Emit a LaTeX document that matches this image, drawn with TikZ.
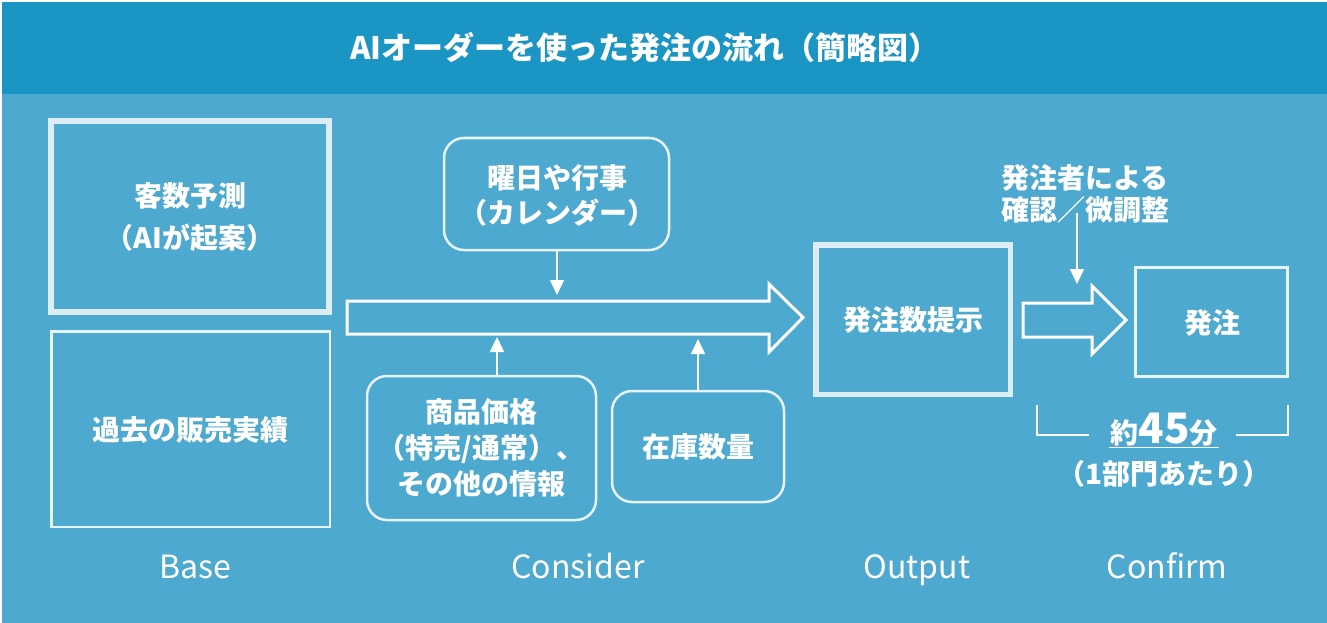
\documentclass[tikz,border=0pt]{standalone}
\usepackage{fontspec}
\setmainfont{Noto Sans CJK JP}
\usetikzlibrary{arrows.meta}
\definecolor{hdr}{HTML}{1B95C3}
\definecolor{bg}{HTML}{4DA9CF}
\definecolor{edgec}{HTML}{DCEDF5}
\definecolor{thinc}{HTML}{E6F3F8}
\begin{document}
\begin{tikzpicture}[x=1pt,y=-1pt,
  txt/.style={text=white,font=\bfseries\fontsize{28}{36}\selectfont,align=center},
  thickbox/.style={draw=edgec,line width=5.5pt,inner sep=0pt},
  thinbox/.style={draw=thinc,line width=2.5pt,inner sep=0pt},
  rbox/.style={draw=thinc,line width=2.5pt,rounded corners=20pt,inner sep=0pt},
  bigarrow/.style={draw=white,line width=3pt,line join=miter},
  thinarrow/.style={draw=white,line width=1.5pt,-{Triangle[width=14pt,length=15pt]}},
  label/.style={text=white,font=\fontsize{32}{36}\selectfont,anchor=base},
]
\useasboundingbox (0,0) rectangle (1327,623);
\fill[white] (0,0) rectangle (1327,623);
\fill[hdr] (2,2) rectangle (1327,94);
\fill[bg] (2,94) rectangle (1327,623);
\node[text=white,font=\bfseries\fontsize{31}{34}\selectfont] (title) at (645,47) {AIオーダーを使った発注の流れ（簡略図）};

% Base
\node[thickbox,minimum width=278pt,minimum height=191pt] (pred) at (190,216.5) {};
\node[txt,font=\bfseries\fontsize{28}{42}\selectfont] (predt) at (190,217) {客数予測\\（AIが起案）};
\node[thinbox,minimum width=278.5pt,minimum height=195.5pt] (past) at (190.5,429) {};
\node[txt] (pastt) at (190,430) {過去の販売実績};

% Consider
\draw[bigarrow] (347,301) coordinate (ba1) -- (769,301) -- (769,284) -- (803,317.5) coordinate (ba1tip) -- (769,352) -- (769,334) -- (347,334) -- cycle;
\coordinate (c1) at (557,295);
\coordinate (c2) at (497,337);
\coordinate (c3) at (698,339);
\node[rbox,minimum width=225pt,minimum height=112pt] (cal) at (556.5,194) {};
\node[txt,font=\bfseries\fontsize{28}{35}\selectfont] (calt) at (557,195) {曜日や行事\\（カレンダー）};
\node[rbox,minimum width=229pt,minimum height=144pt] (prod) at (481.5,448) {};
\node[txt] (prodt) at (481,448) {商品価格\\（特売/通常）、\\その他の情報};
\node[rbox,minimum width=172pt,minimum height=111pt] (stock) at (698,446.5) {};
\node[txt] (stockt) at (698,447) {在庫数量};
\draw[thinarrow] (cal.south -| c1) -- (c1);
\draw[thinarrow] (prod.north -| c2) -- (c2);
\draw[thinarrow] (stock.north -| c3) -- (c3);

% Output
\node[thickbox,minimum width=194.5pt,minimum height=149.5pt] (out) at (913,319.5) {};
\node[txt] (outt) at (913,320) {発注数提示};

% Confirm
\node[txt,font=\bfseries\fontsize{28}{32}\selectfont] (chk) at (1085,194) {発注者による\\確認／微調整};
\coordinate (c4) at (1077,284);
\draw[thinarrow] ([yshift=14pt]chk.south -| c4) -- (c4);
\draw[bigarrow] (1023,303) -- (1092,303) -- (1092,286) -- (1126,320) -- (1092,354) -- (1092,337) -- (1023,337) -- cycle;
\node[draw=thinc,line width=3pt,minimum width=152pt,minimum height=109pt] (ord) at (1211.5,322) {};
\node[txt] (ordt) at (1212,323) {発注};

% bracket
\node[text=white,font=\bfseries\fontsize{28}{30}\selectfont,anchor=base,inner sep=1.5pt] (time) at (1164,443) {約{\fontsize{42}{42}\selectfont 45}分};
\draw[white,line width=1.5pt] (time.south west) -- (time.south east);
\coordinate (bl) at (1037,405);
\coordinate (br) at (1288,405);
\draw[white,line width=2pt] (bl) |- (1089,435);
\draw[white,line width=2pt] (br) |- (1236,435);
\node[txt,font=\bfseries\fontsize{28}{30}\selectfont] (dept) at (1164,474) {（1部門あたり）};

% labels
\node[label] (l1) at (195,578) {Base};
\node[label] (l2) at (578,578) {Consider};
\node[label] (l3) at (917,578) {Output};
\node[label] (l4) at (1167,578) {Confirm};
\end{tikzpicture}
\end{document}
